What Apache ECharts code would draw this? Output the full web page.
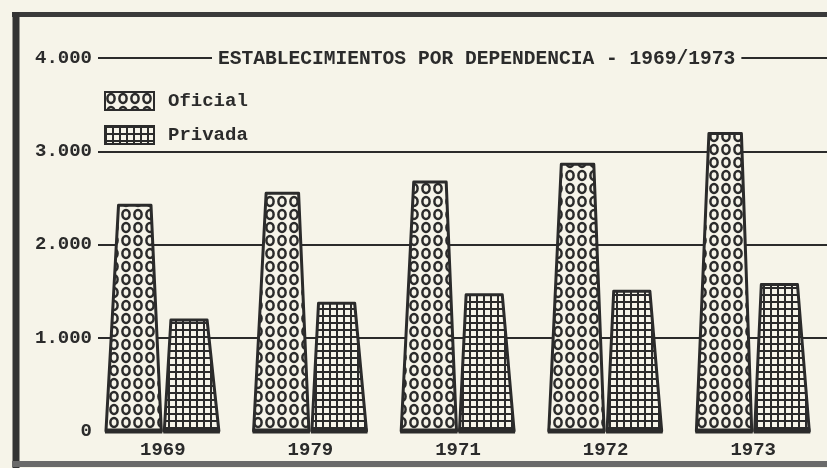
<!DOCTYPE html>
<html>
<head>
<meta charset="utf-8">
<script src="https://cdn.jsdelivr.net/npm/echarts@6/dist/echarts.min.js"></script>
<style>
html, body { margin: 0; padding: 0; background: #f6f4e9; }
#chart { width: 827px; height: 468px; }
</style>
</head>
<body>
<div id="chart"></div>
<script>
// datos
var years = ['1969', '1979', '1971', '1972', '1973'];
var oficial = [2420, 2550, 2670, 2860, 3190];
var privada = [1190, 1370, 1460, 1500, 1570];
var yTicks = [0, 1000, 2000, 3000, 4000];

var ink = '#2b2b2b';
var paper = '#f6f4e9';
var font = 'Liberation Mono';

// trama de circulos (Oficial)
function circlePattern() {
	var c = document.createElement('canvas');
	c.width = 12; c.height = 13;
	var g = c.getContext('2d');
	g.fillStyle = paper; g.fillRect(0, 0, 12, 13);
	g.strokeStyle = ink; g.lineWidth = 2.5;
	g.beginPath(); g.ellipse(6, 6.5, 3.6, 4.4, 0, 0, Math.PI * 2); g.stroke();
	return c;
}
// trama cuadriculada (Privada)
function gridPattern() {
	var c = document.createElement('canvas');
	c.width = 7; c.height = 7;
	var g = c.getContext('2d');
	g.fillStyle = ink; g.fillRect(0, 0, 7, 7);
	g.fillStyle = paper; g.fillRect(2, 2, 5, 5);
	return c;
}
var fillOficial = { image: circlePattern(), repeat: 'repeat' };
var fillPrivada = { image: gridPattern(), repeat: 'repeat' };

// barras en forma de trapecio
function trapezoid(shape, fill) {
	return function (params, api) {
		var base = api.coord([api.value(0), 0]);
		var top = api.coord([api.value(0), api.value(1)]);
		var w = api.size([1, 0])[0];
		var cx = base[0];
		return {
			type : 'group',
			children : [ {
				type : 'polygon',
				shape : {
					points : [ [ cx + shape[0] * w, base[1] ], [ cx + shape[2] * w, top[1] ],
							[ cx + shape[3] * w, top[1] ], [ cx + shape[1] * w, base[1] ] ]
				},
				style : { fill : fill, stroke : ink, lineWidth : 3, lineJoin : 'round' }
			}, {
				type : 'line',
				shape : { x1 : cx + shape[0] * w - 1, y1 : base[1], x2 : cx + shape[1] * w + 1, y2 : base[1] },
				style : { stroke : ink, lineWidth : 5 }
			} ]
		};
	};
}

var chart = echarts.init(document.getElementById('chart'));
var option = {
	backgroundColor : paper,
	animation : false,
	title : {
		text : 'ESTABLECIMIENTOS POR DEPENDENCIA - 1969/1973',
		left : 212,
		top : 47,
		padding : [ 2, 6 ],
		backgroundColor : paper,
		textStyle : { fontFamily : font, fontSize : 19.6, fontWeight : 'bold', color : ink }
	},
	legend : {
		orient : 'vertical',
		left : 99,
		top : 86,
		itemWidth : 49,
		itemHeight : 18,
		itemGap : 14,
		icon : 'rect',
		itemStyle : { borderColor : ink, borderWidth : 2 },
		textStyle : { fontFamily : font, fontSize : 19, fontWeight : 'bold', color : ink, padding : [ 0, 0, 0, 9 ] },
		data : [ 'Oficial', 'Privada' ]
	},
	grid : [
		{ left : 89, right : -4, top : 58, bottom : 37 },
		{ left : 98, right : 0, top : 58, bottom : 37 }
	],
	xAxis : [ {
		type : 'category',
		gridIndex : 0,
		data : years,
		axisLine : { show : false },
		axisTick : { show : false },
		axisLabel : { margin : 10, fontFamily : font, fontSize : 19, fontWeight : 'bold', color : ink }
	}, {
		type : 'value',
		gridIndex : 1,
		show : false
	} ],
	yAxis : [ {
		type : 'value',
		gridIndex : 0,
		min : 0,
		max : 4000,
		interval : 1000,
		show : false
	}, {
		type : 'value',
		gridIndex : 1,
		min : yTicks[0],
		max : yTicks[yTicks.length - 1],
		interval : 1000,
		axisLine : { show : false },
		axisTick : { show : false },
		splitLine : { show : true, showMinLine : false, lineStyle : { color : ink, width : 2 } },
		axisLabel : {
			margin : 6,
			fontFamily : font,
			fontSize : 19,
			fontWeight : 'bold',
			color : ink,
			formatter : function (v) {
				return v === 0 ? '0' : (v / 1000) + '.000';
			}
		}
	} ],
	series : [ {
		name : 'Oficial',
		type : 'custom',
		xAxisIndex : 0,
		yAxisIndex : 0,
		itemStyle : { color : fillOficial },
		renderItem : trapezoid([ -0.385, -0.01, -0.30, -0.08 ], fillOficial),
		data : oficial.map(function (v, i) { return [ i, v ]; })
	}, {
		name : 'Privada',
		type : 'custom',
		xAxisIndex : 0,
		yAxisIndex : 0,
		itemStyle : { color : fillPrivada },
		renderItem : trapezoid([ 0.01, 0.38, 0.055, 0.30 ], fillPrivada),
		data : privada.map(function (v, i) { return [ i, v ]; })
	} ],
	graphic : [ {
		type : 'line',
		shape : { x1 : 12, y1 : 14.5, x2 : 827, y2 : 14.5 },
		style : { stroke : '#3a3a3a', lineWidth : 5 }
	}, {
		type : 'line',
		shape : { x1 : 16, y1 : 12, x2 : 16, y2 : 468 },
		style : { stroke : '#333', lineWidth : 7 }
	}, {
		type : 'line',
		shape : { x1 : 12, y1 : 464, x2 : 827, y2 : 464 },
		style : { stroke : '#6a6a6a', lineWidth : 6 }
	} ]
};
chart.setOption(option);
</script>
</body>
</html>
